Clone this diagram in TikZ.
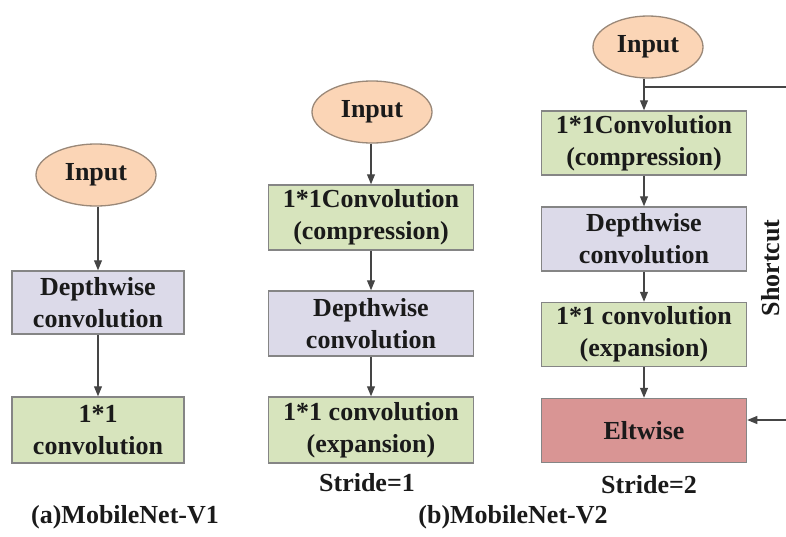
\documentclass[tikz,border=0pt]{standalone}
\usepackage{fontspec}
\setmainfont{Liberation Serif}
\usetikzlibrary{arrows.meta,shapes.geometric}
\definecolor{gfill}{HTML}{D7E4BD}
\definecolor{pfill}{HTML}{DCDAE9}
\definecolor{rfill}{HTML}{D99594}
\definecolor{efill}{HTML}{FBD5B6}
\definecolor{bord}{HTML}{858585}
\definecolor{ebord}{HTML}{9A8878}
\definecolor{linec}{HTML}{454545}
\definecolor{txt}{HTML}{1A1A1A}
\tikzset{
  every node/.style={font=\fontsize{26}{32}\selectfont\bfseries, text=txt, align=center, inner sep=0pt},
  inputnode/.style={ellipse, draw=ebord, fill=efill, line width=1.3pt, minimum width=120pt, minimum height=62pt},
  greenbox/.style={rectangle, draw=bord, fill=gfill, line width=1.5pt},
  purplebox/.style={rectangle, draw=bord, fill=pfill, line width=1.5pt},
  redbox/.style={rectangle, draw=bord, fill=rfill, line width=1.5pt},
  arr/.style={draw=linec, line width=1.1pt, -{Triangle[length=10pt,width=8pt]}},
  plainline/.style={draw=linec, line width=1.1pt},
}
\begin{document}
\begin{tikzpicture}[x=1pt,y=-1pt]
\useasboundingbox (0,0) rectangle (786,536);
% Column A
\node[inputnode] (inA) at (96,175) {Input};
\node[purplebox, minimum width=172pt, minimum height=63pt] (dwA) at (98,302.5) {Depthwise\\convolution};
\node[greenbox, minimum width=172pt, minimum height=66pt] (pwA) at (98,430) {1*1\\convolution};
\node (labA) at (125,517) {(a)MobileNet-V1};
\draw[arr] (inA.south -| dwA.north) -- (dwA.north);
\draw[arr] (dwA) -- (pwA);
% Column B
\node[inputnode] (inB) at (372,112) {Input};
\node[greenbox, minimum width=205pt, minimum height=65pt] (cpB) at (371,217.5) {1*1Convolution\\(compression)};
\node[purplebox, minimum width=205pt, minimum height=65pt] (dwB) at (371,323.5) {Depthwise\\convolution};
\node[greenbox, minimum width=205pt, minimum height=66pt] (exB) at (371,430) {1*1 convolution\\(expansion)};
\node (stB) at (367,483) {Stride=1};
\node (labB) at (513,517) {(b)MobileNet-V2};
\draw[arr] (inB.south -| cpB.north) -- (cpB.north);
\draw[arr] (cpB) -- (dwB);
\draw[arr] (dwB) -- (exB);
% Column C
\node[inputnode, minimum width=110pt] (inC) at (648,47) {Input};
\node[greenbox, minimum width=205pt, minimum height=64pt] (cpC) at (644,143) {1*1Convolution\\(compression)};
\node[purplebox, minimum width=205pt, minimum height=64pt] (dwC) at (644,239) {Depthwise\\convolution};
\node[greenbox, minimum width=205pt, minimum height=64pt] (exC) at (644,334.5) {1*1 convolution\\(expansion)};
\node[redbox, minimum width=205pt, minimum height=64pt] (elC) at (644,430.5) {Eltwise};
\node (stC) at (649,485) {Stride=2};
\node[rotate=90] (scT) at (771,268) {Shortcut};
\coordinate (br) at (644,87);
\coordinate (brEnd) at (786,87);
\coordinate (scIn) at (786,420);
\draw[arr] (inC.south -| cpC.north) -- (cpC.north);
\draw[plainline] (br) -- (brEnd);
\draw[arr] (cpC) -- (dwC);
\draw[arr] (dwC) -- (exC);
\draw[arr] (exC) -- (elC);
\draw[arr] (scIn) -- (scIn -| elC.east);
\end{tikzpicture}
\end{document}
